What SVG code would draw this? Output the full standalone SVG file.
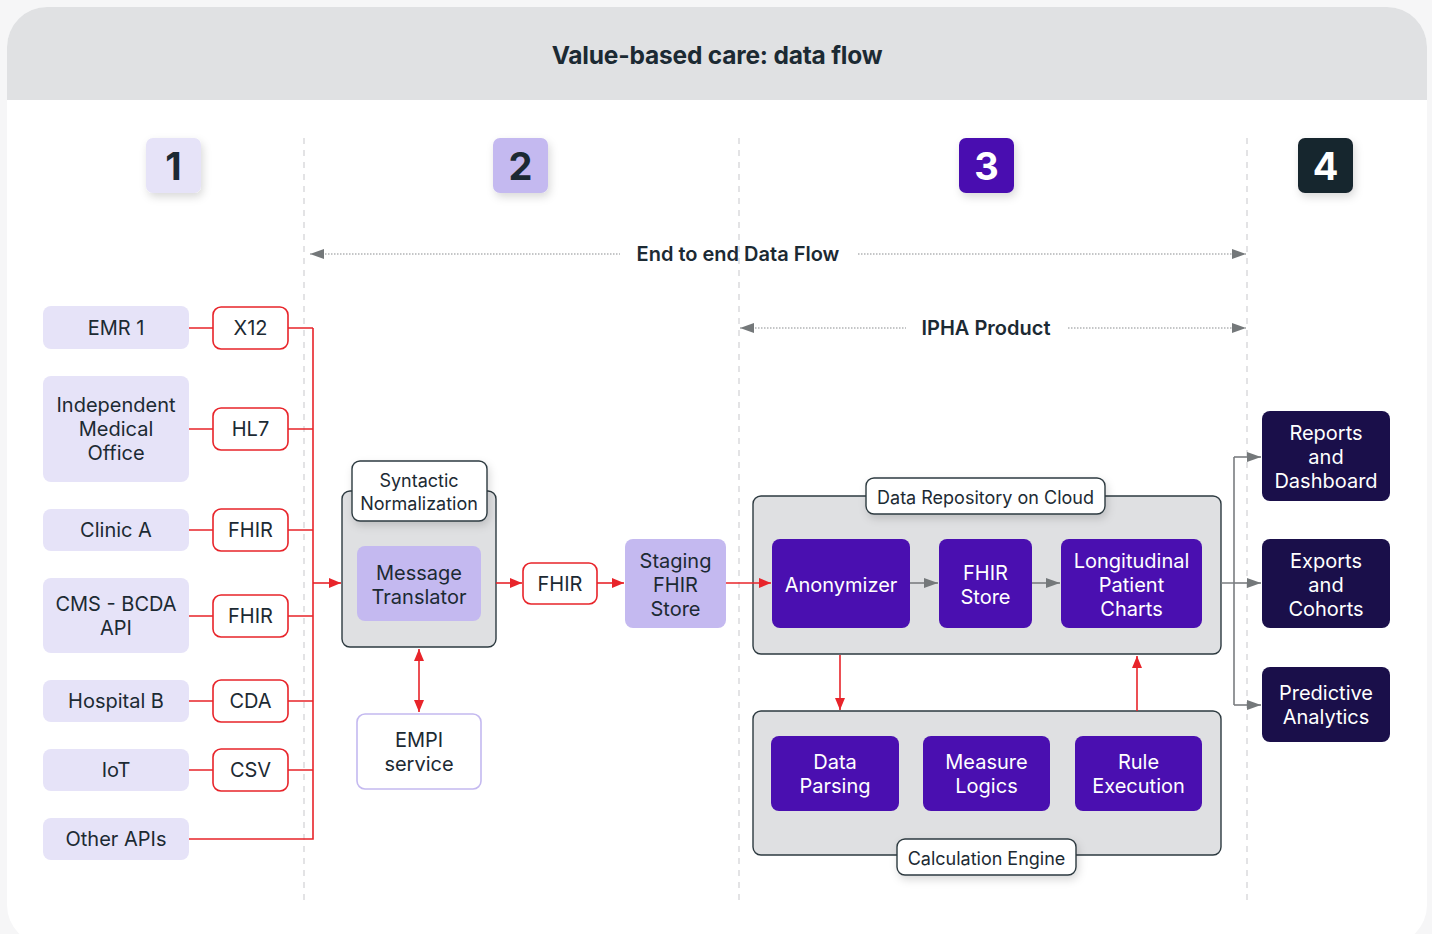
<svg xmlns="http://www.w3.org/2000/svg" width="1432" height="934" viewBox="0 0 1432 934">
<defs>
<style>
text{font-family:Inter,"Noto Sans","Liberation Sans",sans-serif;fill:#1c2a33;text-anchor:middle;dominant-baseline:central}
.t20{font-size:20px}
.t18{font-size:18px}
.w{fill:#ffffff}
.src{fill:#e6e3f8}
.fmt{fill:#ffffff;stroke:#e8242a;stroke-width:1.6}
.grp{fill:#dfe0e2;stroke:#2d3a40;stroke-width:1.4}
.lbl{fill:#ffffff;stroke:#2d3a40;stroke-width:1.4}
.lav{fill:#c4b9f0}
.pur{fill:#4a0fb0}
.navy{fill:#1a0f4a}
.red{fill:none;stroke:#e8242a;stroke-width:1.6}
.gry{fill:none;stroke:#7a7d80;stroke-width:1.6}
.dot{fill:none;stroke:#8a8d90;stroke-width:1.2;stroke-dasharray:1.5 1.5}
.vd{stroke:#d8d8da;stroke-width:1.4;stroke-dasharray:6 6}
.badge{font-size:38px;font-weight:700}
</style>
<marker id="ar" viewBox="0 0 12 10" refX="12" refY="5" markerWidth="12" markerHeight="10" markerUnits="userSpaceOnUse" orient="auto-start-reverse"><path d="M0,0L12,5L0,10z" fill="#e8242a"/></marker>
<marker id="ag" viewBox="0 0 14 10" refX="14" refY="5" markerWidth="14" markerHeight="10" markerUnits="userSpaceOnUse" orient="auto-start-reverse"><path d="M0,0L14,5L0,10z" fill="#74787a"/></marker>
<filter id="sh" x="-20%" y="-20%" width="150%" height="160%"><feDropShadow dx="2" dy="4" stdDeviation="4" flood-color="#000" flood-opacity="0.15"/></filter>
</defs>
<rect x="0" y="0" width="1432" height="934" fill="#f6f6f7"/>
<rect x="7" y="7" width="1420" height="938" rx="40" fill="#ffffff"/>
<path d="M7,100V47A40,40 0 0 1 47,7H1387A40,40 0 0 1 1427,47V100Z" fill="#e0e1e3"/>
<text x="717" y="55" style="font-size:24.5px;font-weight:700;letter-spacing:-0.2px">Value-based care: data flow</text>

<g id="columns">
<line class="vd" x1="304" y1="138" x2="304" y2="903"/>
<line class="vd" x1="739" y1="138" x2="739" y2="903"/>
<line class="vd" x1="1247" y1="138" x2="1247" y2="903"/>
</g>

<g id="badge1"><rect x="146" y="138" width="55" height="55" rx="7" fill="#e6e3f8" filter="url(#sh)"/><text x="173.5" y="166" class="badge">1</text></g>
<g id="badge2"><rect x="493" y="138" width="55" height="55" rx="7" fill="#c4b9f0" filter="url(#sh)"/><text x="520.5" y="166" class="badge">2</text></g>
<g id="badge3"><rect x="959" y="138" width="55" height="55" rx="7" fill="#4a0fb0" filter="url(#sh)"/><text x="986.5" y="166" class="badge w">3</text></g>
<g id="badge4"><rect x="1298" y="138" width="55" height="55" rx="7" fill="#19262f" filter="url(#sh)"/><text x="1325.5" y="166" class="badge w">4</text></g>

<g id="spans">
<line class="dot" x1="310" y1="254" x2="620" y2="254" marker-start="url(#ag)"/>
<line class="dot" x1="858" y1="254" x2="1246" y2="254" marker-end="url(#ag)"/>
<text x="738" y="254" style="font-size:20px;font-weight:600">End to end Data Flow</text>
<line class="dot" x1="740" y1="328" x2="906" y2="328" marker-start="url(#ag)"/>
<line class="dot" x1="1068" y1="328" x2="1246" y2="328" marker-end="url(#ag)"/>
<text x="986" y="328" style="font-size:20px;font-weight:600">IPHA Product</text>
</g>

<g id="emr1"><rect class="src" x="43" y="306" width="146" height="43" rx="8"/><text class="t20" x="116" y="328">EMR 1</text></g>
<g id="imo"><rect class="src" x="43" y="376" width="146" height="106" rx="8"/><text class="t20" x="116" y="405">Independent</text><text class="t20" x="116" y="429">Medical</text><text class="t20" x="116" y="453">Office</text></g>
<g id="clinicA"><rect class="src" x="43" y="509" width="146" height="42" rx="8"/><text class="t20" x="116" y="530">Clinic A</text></g>
<g id="cms"><rect class="src" x="43" y="578" width="146" height="75" rx="8"/><text class="t20" x="116" y="604">CMS - BCDA</text><text class="t20" x="116" y="628">API</text></g>
<g id="hospB"><rect class="src" x="43" y="680" width="146" height="42" rx="8"/><text class="t20" x="116" y="701">Hospital B</text></g>
<g id="iot"><rect class="src" x="43" y="749" width="146" height="42" rx="8"/><text class="t20" x="116" y="770">IoT</text></g>
<g id="otherApis"><rect class="src" x="43" y="818" width="146" height="42" rx="8"/><text class="t20" x="116" y="839">Other APIs</text></g>

<g id="fmtX12"><rect class="fmt" x="213" y="307" width="75" height="42" rx="8"/><text class="t20" x="250.5" y="328">X12</text></g>
<g id="fmtHL7"><rect class="fmt" x="213" y="408" width="75" height="42" rx="8"/><text class="t20" x="250.5" y="429">HL7</text></g>
<g id="fmtFHIR1"><rect class="fmt" x="213" y="509" width="75" height="42" rx="8"/><text class="t20" x="250.5" y="530">FHIR</text></g>
<g id="fmtFHIR2"><rect class="fmt" x="213" y="595" width="75" height="42" rx="8"/><text class="t20" x="250.5" y="616">FHIR</text></g>
<g id="fmtCDA"><rect class="fmt" x="213" y="680" width="75" height="42" rx="8"/><text class="t20" x="250.5" y="701">CDA</text></g>
<g id="fmtCSV"><rect class="fmt" x="213" y="749" width="75" height="42" rx="8"/><text class="t20" x="250.5" y="770">CSV</text></g>

<g id="syntactic">
<rect class="grp" x="342" y="491" width="154" height="156" rx="8"/>
<rect class="lbl" x="352" y="461" width="135" height="60" rx="8" filter="url(#sh)"/>
<text class="t18" x="419" y="480">Syntactic</text><text class="t18" x="419" y="503">Normalization</text>
</g>
<g id="msgTranslator"><rect class="lav" x="357" y="546" width="124" height="75" rx="8"/><text class="t20" x="419" y="573">Message</text><text class="t20" x="419" y="597">Translator</text></g>
<g id="empi"><rect x="357" y="714" width="124" height="75" rx="8" fill="#fff" stroke="#c4b9f0" stroke-width="1.6"/><text class="t20" x="419" y="740">EMPI</text><text class="t20" x="419" y="764">service</text></g>
<g id="fmtFHIR3"><rect class="fmt" x="523" y="563" width="74" height="41" rx="8"/><text class="t20" x="560" y="584">FHIR</text></g>
<g id="staging"><rect class="lav" x="625" y="539" width="101" height="89" rx="8"/><text class="t20" x="675.5" y="561">Staging</text><text class="t20" x="675.5" y="585">FHIR</text><text class="t20" x="675.5" y="609">Store</text></g>

<g id="dataRepo">
<rect class="grp" x="753" y="496" width="468" height="158" rx="8"/>
<rect class="lbl" x="866" y="478" width="239" height="36" rx="8" filter="url(#sh)"/>
<text class="t18" x="985.5" y="497">Data Repository on Cloud</text>
</g>
<g id="anonymizer"><rect class="pur" x="772" y="539" width="138" height="89" rx="8"/><text class="t20 w" x="841" y="585">Anonymizer</text></g>
<g id="fhirStore"><rect class="pur" x="939" y="539" width="93" height="89" rx="8"/><text class="t20 w" x="985.5" y="573">FHIR</text><text class="t20 w" x="985.5" y="597">Store</text></g>
<g id="lpc"><rect class="pur" x="1061" y="539" width="141" height="89" rx="8"/><text class="t20 w" x="1131.5" y="561">Longitudinal</text><text class="t20 w" x="1131.5" y="585">Patient</text><text class="t20 w" x="1131.5" y="609">Charts</text></g>

<g id="calcEngine">
<rect class="grp" x="753" y="711" width="468" height="144" rx="8"/>
<rect class="lbl" x="897" y="839" width="179" height="36" rx="8" filter="url(#sh)"/>
<text class="t18" x="986.5" y="858">Calculation Engine</text>
</g>
<g id="dataParsing"><rect class="pur" x="771" y="736" width="128" height="75" rx="8"/><text class="t20 w" x="835" y="762">Data</text><text class="t20 w" x="835" y="786">Parsing</text></g>
<g id="measureLogics"><rect class="pur" x="923" y="736" width="127" height="75" rx="8"/><text class="t20 w" x="986.5" y="762">Measure</text><text class="t20 w" x="986.5" y="786">Logics</text></g>
<g id="ruleExec"><rect class="pur" x="1075" y="736" width="127" height="75" rx="8"/><text class="t20 w" x="1138.5" y="762">Rule</text><text class="t20 w" x="1138.5" y="786">Execution</text></g>

<g id="reports"><rect class="navy" x="1262" y="411" width="128" height="90" rx="8"/><text class="t20 w" x="1326" y="433">Reports</text><text class="t20 w" x="1326" y="457">and</text><text class="t20 w" x="1326" y="481">Dashboard</text></g>
<g id="exports"><rect class="navy" x="1262" y="539" width="128" height="89" rx="8"/><text class="t20 w" x="1326" y="561">Exports</text><text class="t20 w" x="1326" y="585">and</text><text class="t20 w" x="1326" y="609">Cohorts</text></g>
<g id="predictive"><rect class="navy" x="1262" y="667" width="128" height="75" rx="8"/><text class="t20 w" x="1326" y="693">Predictive</text><text class="t20 w" x="1326" y="717">Analytics</text></g>

<g id="connectors">
<path class="red" d="M189,328H213M189,429H213M189,530H213M189,616H213M189,701H213M189,770H213"/>
<path class="red" d="M288,328H313M288,429H313M288,530H313M288,616H313M288,701H313M288,770H313M189,839H313V328"/>
<line class="red" x1="313" y1="583" x2="341" y2="583" marker-end="url(#ar)"/>
<line class="red" x1="496" y1="583" x2="522" y2="583" marker-end="url(#ar)"/>
<line class="red" x1="597" y1="583" x2="624" y2="583" marker-end="url(#ar)"/>
<line class="red" x1="726" y1="583" x2="771" y2="583" marker-end="url(#ar)"/>
<line class="red" x1="419" y1="649" x2="419" y2="712" marker-start="url(#ar)" marker-end="url(#ar)"/>
<line class="gry" x1="910" y1="583" x2="938" y2="583" marker-end="url(#ag)"/>
<line class="gry" x1="1032" y1="583" x2="1060" y2="583" marker-end="url(#ag)"/>
<line class="red" x1="840" y1="655" x2="840" y2="710" marker-end="url(#ar)"/>
<line class="red" x1="1137" y1="711" x2="1137" y2="656" marker-end="url(#ar)"/>
<path class="gry" d="M1221,583H1234M1234,457V705"/>
<line class="gry" x1="1234" y1="457" x2="1261" y2="457" marker-end="url(#ag)"/>
<line class="gry" x1="1234" y1="583" x2="1261" y2="583" marker-end="url(#ag)"/>
<line class="gry" x1="1234" y1="705" x2="1261" y2="705" marker-end="url(#ag)"/>
</g>
</svg>
